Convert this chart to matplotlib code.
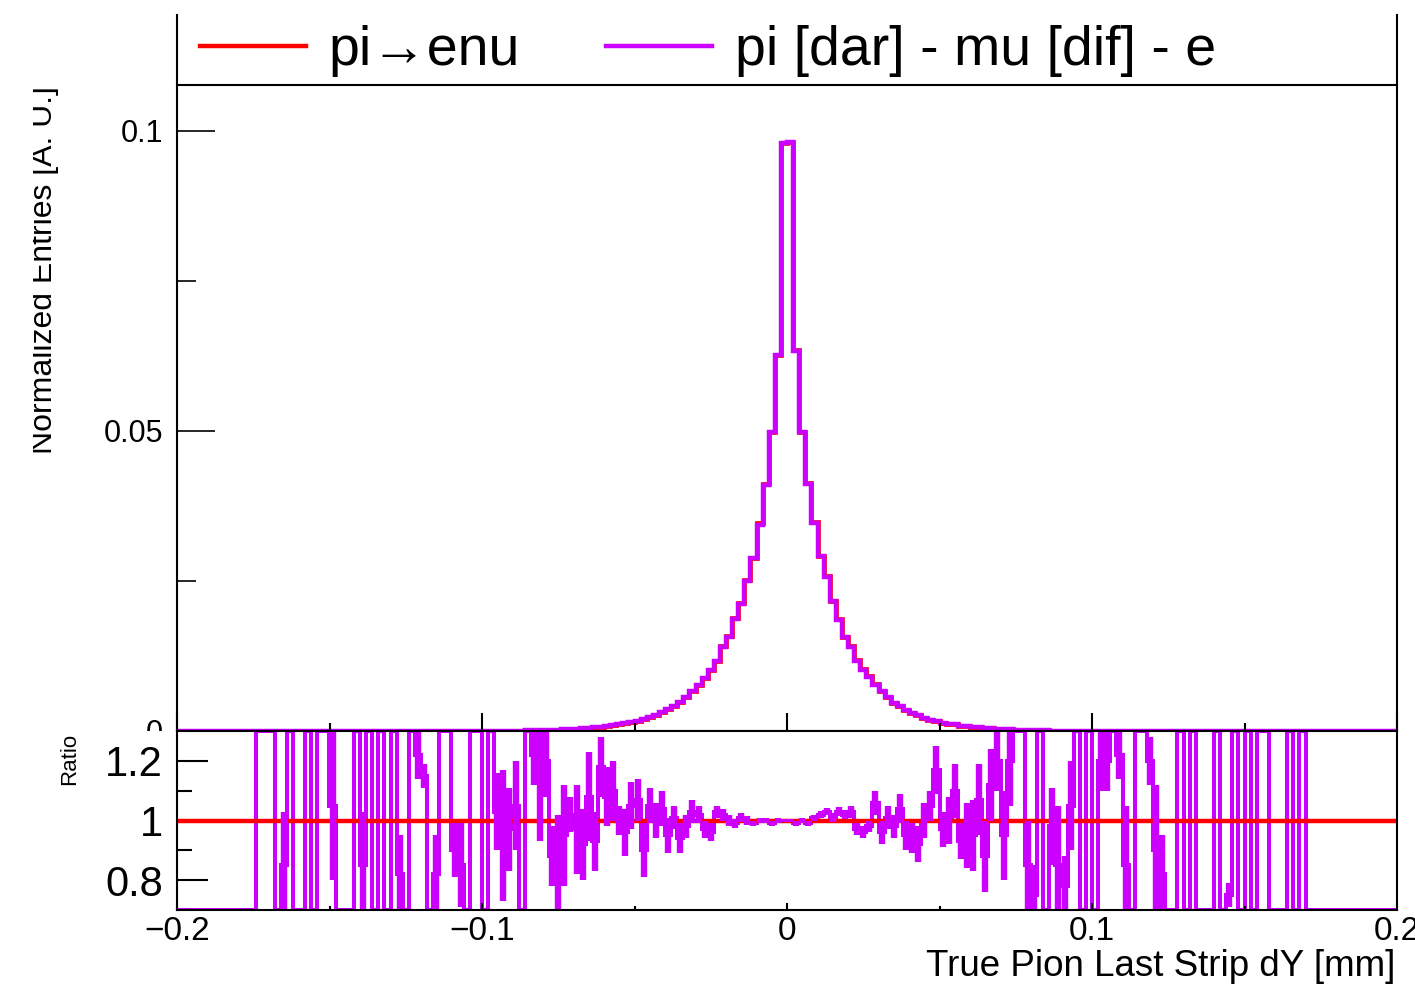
"""
Pion last-strip dY: pi->enu vs pi[dar]-mu[dif]-e, with ratio pad.
"""

import numpy as np
import matplotlib as mpl
import matplotlib.pyplot as plt
from matplotlib.lines import Line2D
from matplotlib.patches import Rectangle
from matplotlib.ticker import FuncFormatter, MultipleLocator, FixedLocator
from matplotlib.transforms import Bbox

mpl.rcParams.update(
    {
        "font.family": ["Liberation Sans", "DejaVu Sans"],
        "axes.linewidth": 1.5,
        "axes.unicode_minus": True,
    }
)

RED = "#ff0000"
PURPLE = "#cc00ff"

# 200 bins of 0.002 between -0.2 and 0.2
X_MIN, X_MAX, N_BINS = -0.2, 0.2, 200

# normalized entries, listed from the central bin outward (left = negative dY)
pienu_left = [0.0980, 0.0627, 0.0499, 0.0411, 0.0346, 0.0289, 0.0251, 0.0214, 0.0188, 0.0158,
              0.0141, 0.0117, 0.0102, 0.0089, 0.0077, 0.0067, 0.0057, 0.0049, 0.0042, 0.0036,
              0.0031, 0.0027, 0.0023, 0.0020, 0.0017, 0.0015, 0.0013, 0.0011, 0.00095, 0.0008,
              0.0007, 0.0006, 0.0005, 0.00043, 0.00037, 0.00031, 0.00026, 0.00022, 0.00019, 0.00016,
              0.00013, 0.00011, 0.00009, 0.00008, 0.00007, 0.00006, 0.00005, 0.00004, 0.00003, 0.00003,
              0.00002, 0.00002, 0.00002, 0.00001]
pienu_right = [0.0982, 0.0634, 0.0499, 0.0413, 0.0349, 0.0292, 0.0259, 0.0217, 0.0186, 0.0157,
               0.0141, 0.0118, 0.0103, 0.0091, 0.0078, 0.0067, 0.0056, 0.0046, 0.0041, 0.0035,
               0.0030, 0.0026, 0.0022, 0.0019, 0.0017, 0.0014, 0.0012, 0.0011, 0.0009, 0.0008,
               0.0007, 0.0006, 0.0005, 0.00042, 0.00036, 0.0003, 0.00025, 0.00021, 0.00018, 0.00015,
               0.00013, 0.00011, 0.00009, 0.00008, 0.00007, 0.00006, 0.00005, 0.00004, 0.00003, 0.00003,
               0.00002, 0.00002, 0.00002, 0.00001]
dardif_left = [0.0979, 0.0626, 0.0498, 0.0410, 0.0344, 0.0288, 0.0250, 0.0212, 0.0187, 0.0157,
               0.0140, 0.0116, 0.0101, 0.0088, 0.0077, 0.0066, 0.0057, 0.0049, 0.0042, 0.0036,
               0.0031, 0.0027, 0.0023, 0.0020, 0.0017, 0.0015, 0.0013, 0.0011, 0.00095, 0.0008,
               0.0007, 0.0006, 0.0005, 0.00043, 0.00037, 0.00031, 0.00026, 0.00022, 0.00019, 0.00016,
               0.00013, 0.00011, 0.00009, 0.00008, 0.00007, 0.00006, 0.00005, 0.00004, 0.00003, 0.00003,
               0.00002, 0.00002, 0.00002, 0.00001]
dardif_right = [0.0981, 0.0633, 0.0498, 0.0412, 0.0347, 0.0291, 0.0257, 0.0216, 0.0185, 0.0156,
                0.0140, 0.0117, 0.0102, 0.0090, 0.0077, 0.0067, 0.0056, 0.0046, 0.0041, 0.0035,
                0.0030, 0.0026, 0.0022, 0.0019, 0.0017, 0.0014, 0.0012, 0.0011, 0.0009, 0.0008,
                0.0007, 0.0006, 0.0005, 0.00042, 0.00036, 0.0003, 0.00025, 0.00021, 0.00018, 0.00015,
                0.00013, 0.00011, 0.00009, 0.00008, 0.00007, 0.00006, 0.00005, 0.00004, 0.00003, 0.00003,
                0.00002, 0.00002, 0.00002, 0.00001]

# ratio dar-dif / pienu per bin (HI = off the top of the pad)
HI = 2.0
ratio = [
    0, 0, 0, 0, 0, 0, 0, 0, 0, 0,
    0, 0, 0, HI, HI, HI, 0, 0.85, HI, 0,
    0, HI, 0, HI, HI, 1.05, 0, 0, 0, HI,
    0.85, HI, 0, HI, 0, HI, 0.82, 0, HI, 1.22,
    1.15, 0, 0.82, HI, HI, 0.90, 0.85, 0, HI, HI,
    0, HI, 1.03, 0.95, 0.97, 1.05, 0, HI, 1.22, 1.15,
    1.20, 0.88, 0.85, 0.95, 1.02, 0.97, 0.92, 1.08, 0.93, 1.18,
    1.08, 1.10, 1.00, 0.96, 1.05, 1.07, 0.90, 1.05, 1.00, 1.04,
    0.95, 1.01, 0.94, 0.98, 1.03, 1.02, 0.97, 0.96, 1.03, 1.02,
    1.00, 0.99, 1.01, 1.00, 0.99, 1.00, 1.00, 0.99, 1.00, 1.00,
    1.00, 0.99, 1.00, 0.99, 1.01, 1.02, 1.03, 1.01, 1.03, 1.02,
    1.03, 0.97, 0.96, 0.98, 1.06, 0.96, 1.01, 0.98, 1.04, 0.95,
    0.94, 0.92, 1.00, 1.05, 1.17, 0.97, 1.00, 1.10, 0.93, 0.95,
    0.95, 1.07, 0.88, 1.12, 1.20, 0.95, 1.20, HI, HI, 0.85,
    0.75, HI, 0, 0.98, 0.85, 0.78, 1.05, HI, 0, HI,
    0, 1.20, 1.20, HI, 1.22, 0.85, 0, HI, HI, 1.20,
    0.90, 0.82, 0, 0, HI, 0, HI, 0, 0, 0,
    HI, 0, 0.75, HI, 0, HI, 0, HI, HI, 0,
    0, 0, HI, 0, HI, 0, 0, 0, 0, 0,
    0, 0, 0, 0, 0, 0, 0, 0, 0, 0,
]
ratio_err = [
    0, 0, 0, 0, 0, 0, 0, 0, 0, 0,
    0, 0, 0, 0, 0, 0, 0, 0.18, 0, 0,
    0, 0, 0, 0, 0, 0.25, 0, 0, 0, 0,
    0.18, 0, 0, 0, 0, 0, 0.13, 0, 0, 0.08,
    0.04, 0, 0.13, 0, 0, 0.09, 0.14, 0, 0, 0,
    0, 0, 0.13, 0.22, 0.14, 0.15, 0, 0, 0.10, 0.22,
    0.12, 0.10, 0.17, 0.17, 0.06, 0.15, 0.12, 0.15, 0.10, 0.10,
    0.10, 0.10, 0.05, 0.08, 0.08, 0.07, 0.09, 0.06, 0.06, 0.06,
    0.06, 0.04, 0.05, 0.04, 0.04, 0.03, 0.03, 0.03, 0.02, 0.02,
    0.02, 0.015, 0.015, 0.015, 0.01, 0.01, 0.01, 0.01, 0.008, 0.006,
    0.006, 0.008, 0.01, 0.01, 0.01, 0.012, 0.012, 0.015, 0.015, 0.015,
    0.02, 0.02, 0.02, 0.02, 0.04, 0.04, 0.04, 0.04, 0.05, 0.05,
    0.05, 0.06, 0.06, 0.05, 0.08, 0.06, 0.08, 0.09, 0.06, 0.11,
    0.12, 0.12, 0.12, 0.12, 0.10, 0.15, 0.15, 0, 0, 0.15,
    0.10, 0, 0, 0.13, 0.20, 0.10, 0.15, 0, 0, 0,
    0, 0.10, 0.10, 0, 0.08, 0.20, 0, 0, 0, 0.08,
    0.22, 0.13, 0, 0, 0, 0, 0, 0, 0, 0,
    0, 0, 0.04, 0, 0, 0, 0, 0, 0, 0,
    0, 0, 0, 0, 0, 0, 0, 0, 0, 0,
    0, 0, 0, 0, 0, 0, 0, 0, 0, 0,
]

LEGEND = ["pi\u2192enu", "pi [dar] - mu [dif] - e"]
XLABEL = "True Pion Last Strip dY [mm]"
YLABEL = "Normalized Entries [A. U.]"


def full_hist(left, right):
    h = np.zeros(N_BINS)
    mid = N_BINS // 2
    h[mid - len(left):mid] = left[::-1]
    h[mid:mid + len(right)] = right
    return h


W, H = 1415, 991
fig = plt.figure(figsize=(W / 100, H / 100), dpi=100)


def fx(px):
    return px / W


def fy(py):
    return 1 - py / H


edges = np.linspace(X_MIN, X_MAX, N_BINS + 1)
centers = 0.5 * (edges[:-1] + edges[1:])
pienu = full_hist(pienu_left, pienu_right)
dardif = full_hist(dardif_left, dardif_right)

# ---- upper pad
ax = fig.add_axes([fx(177), fy(731), fx(1397) - fx(177), fy(15) - fy(731)], zorder=0)
ax.stairs(pienu, edges, color=RED, lw=3.4, baseline=None, label=LEGEND[0])
ax.stairs(dardif, edges, color=PURPLE, lw=3.2, baseline=None, label=LEGEND[1])
ax.set_xlim(X_MIN, X_MAX)
ax.set_ylim(0, 0.1193)
ax.spines["top"].set_visible(False)
ax.xaxis.set_major_locator(MultipleLocator(0.1))
ax.xaxis.set_minor_locator(MultipleLocator(0.05))
ax.yaxis.set_major_locator(FixedLocator([0, 0.05, 0.1]))
ax.yaxis.set_minor_locator(FixedLocator([0.025, 0.075]))
ax.yaxis.set_major_formatter(FuncFormatter(lambda v, p: f"{v:g}"))
ax.tick_params(axis="x", which="major", direction="in", length=13, width=1.5, labelbottom=False)
ax.tick_params(axis="x", which="minor", direction="in", length=6, width=1.5)
ax.tick_params(axis="y", which="major", direction="in", length=27, width=1.2, labelsize=22, pad=10)
ax.tick_params(axis="y", which="minor", direction="in", length=14, width=1.2)

leg = fig.legend(
    loc="center left",
    bbox_to_anchor=(fx(200), fy(51)),
    bbox_transform=fig.transFigure,
    ncol=2,
    frameon=False,
    fontsize=40,
    handlelength=1.9,
    handletextpad=0.42,
    columnspacing=1.55,
    borderpad=0,
    borderaxespad=0,
)
for line in leg.get_lines():
    line.set_linewidth(3.2)
fig.add_artist(Line2D([fx(177), fx(1397)], [fy(85), fy(85)], color="black", lw=1.5,
                      transform=fig.transFigure))

# ratio pad covers the lower part of the upper pad
fig.add_artist(Rectangle((0, 0), 1, fy(731), transform=fig.transFigure,
                         facecolor="white", edgecolor="none", zorder=1))

# ---- ratio pad
rax = fig.add_axes([fx(177), fy(910), fx(1397) - fx(177), fy(731) - fy(910)], zorder=2)
rax.set_xlim(X_MIN, X_MAX)
rax.set_ylim(0.7, 1.3)
rax.axhline(1.0, color=RED, lw=3.2)
r = np.array(ratio)
e = np.array(ratio_err)
rax.stairs(np.clip(r, 0.7, 1.3), edges, color=PURPLE, lw=2.9, baseline=None)
m = e > 0
rax.errorbar(centers[m], r[m], yerr=e[m], fmt="none", ecolor=PURPLE, elinewidth=4.6, capsize=0)
rax.xaxis.set_major_locator(MultipleLocator(0.1))
rax.xaxis.set_minor_locator(MultipleLocator(0.05))
rax.xaxis.set_major_formatter(FuncFormatter(lambda v, p: f"{v:g}".replace("-", "\u2212")))
rax.yaxis.set_major_locator(FixedLocator([0.8, 1.0, 1.2]))
rax.yaxis.set_minor_locator(FixedLocator([0.9, 1.1]))
rax.yaxis.set_major_formatter(FuncFormatter(lambda v, p: f"{v:g}"))
rax.tick_params(axis="x", which="major", direction="in", length=5, width=1.5, labelsize=24, pad=4)
rax.tick_params(axis="x", which="minor", direction="in", length=3, width=1.5)
rax.tick_params(axis="y", which="major", direction="in", length=22, width=1.5, labelsize=30, pad=10)
rax.tick_params(axis="y", which="minor", direction="in", length=11, width=1.5)

# ---- titles
yl = fig.text(fx(52), fy(86), YLABEL, rotation=90, rotation_mode="anchor",
              ha="right", va="baseline", fontsize=23)
yl.set_clip_box(Bbox.from_extents(33, 0, W, H))
yl.set_clip_on(True)
fig.text(fx(75), fy(733), "Ratio", rotation=90, rotation_mode="anchor",
         ha="right", va="baseline", fontsize=16)
fig.text(fx(1395), fy(976), XLABEL, ha="right", va="baseline", fontsize=26.5)

fig.savefig("out.png", dpi=100)
